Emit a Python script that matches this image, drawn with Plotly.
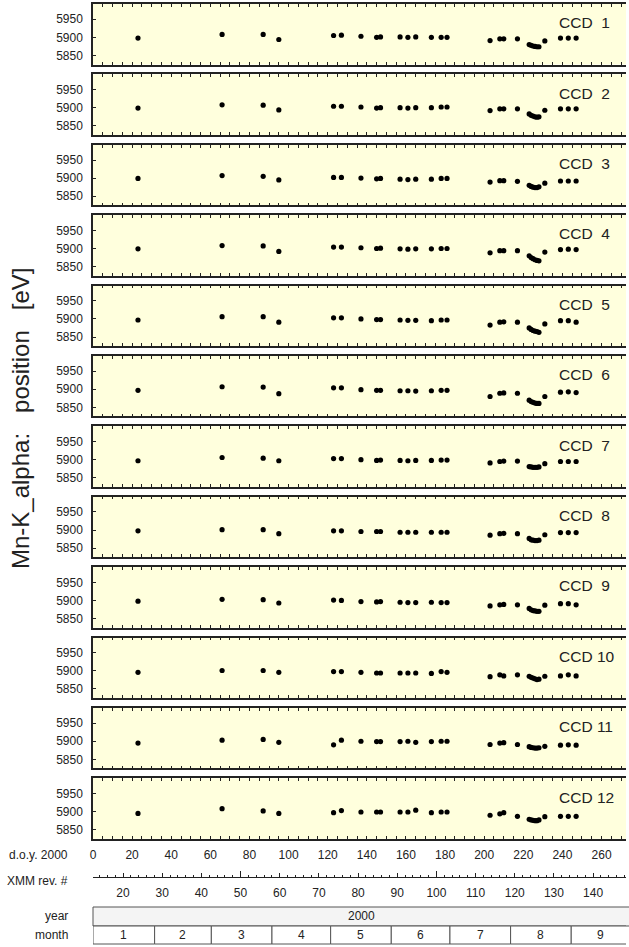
import plotly.graph_objects as go

# ---------------- data ----------------
doy = [23, 66, 87, 95, 123, 127, 137, 145, 147, 157, 161, 165, 173, 178, 181,
       203, 208, 210, 217, 223, 224, 225, 226, 227, 228, 231, 239, 243, 247]

ccd_01 = [5898, 5908, 5908, 5894, 5905, 5906, 5903, 5900, 5901, 5901, 5900, 5901, 5900, 5900, 5900,
          5891, 5896, 5896, 5896, 5880, 5878, 5876, 5875, 5874, 5874, 5890, 5898, 5898, 5898]
ccd_02 = [5899, 5908, 5907, 5894, 5904, 5904, 5902, 5899, 5900, 5900, 5899, 5900, 5900, 5902, 5902,
          5892, 5897, 5897, 5897, 5883, 5879, 5877, 5875, 5874, 5875, 5893, 5897, 5897, 5897]
ccd_03 = [5899, 5907, 5905, 5895, 5902, 5902, 5900, 5898, 5899, 5897, 5896, 5897, 5897, 5899, 5899,
          5889, 5893, 5893, 5891, 5880, 5877, 5875, 5874, 5874, 5876, 5886, 5892, 5892, 5892]
ccd_04 = [5899, 5908, 5907, 5892, 5904, 5904, 5902, 5900, 5901, 5899, 5898, 5899, 5899, 5900, 5900,
          5888, 5894, 5894, 5894, 5880, 5875, 5872, 5869, 5867, 5866, 5890, 5897, 5898, 5897]
ccd_05 = [5897, 5906, 5906, 5891, 5903, 5903, 5900, 5898, 5898, 5897, 5896, 5896, 5895, 5897, 5897,
          5883, 5891, 5892, 5891, 5875, 5871, 5868, 5866, 5865, 5863, 5886, 5895, 5895, 5891]
ccd_06 = [5897, 5907, 5906, 5888, 5904, 5904, 5899, 5897, 5897, 5896, 5896, 5895, 5896, 5897, 5897,
          5880, 5889, 5890, 5889, 5870, 5866, 5864, 5862, 5861, 5861, 5880, 5892, 5893, 5891]
ccd_07 = [5897, 5906, 5904, 5897, 5903, 5903, 5900, 5898, 5899, 5898, 5897, 5898, 5898, 5899, 5899,
          5891, 5895, 5896, 5896, 5881, 5880, 5879, 5879, 5879, 5880, 5889, 5895, 5895, 5895]
ccd_08 = [5898, 5901, 5901, 5890, 5898, 5898, 5896, 5896, 5896, 5894, 5894, 5894, 5894, 5894, 5894,
          5886, 5890, 5891, 5890, 5877, 5873, 5872, 5871, 5871, 5872, 5887, 5893, 5893, 5893]
ccd_09 = [5898, 5903, 5902, 5893, 5901, 5900, 5897, 5896, 5897, 5895, 5894, 5894, 5895, 5894, 5894,
          5885, 5888, 5889, 5888, 5878, 5874, 5872, 5871, 5870, 5870, 5887, 5891, 5891, 5888]
ccd_10 = [5896, 5901, 5901, 5896, 5898, 5898, 5896, 5894, 5894, 5894, 5894, 5894, 5893, 5898, 5896,
          5884, 5889, 5886, 5889, 5885, 5882, 5880, 5878, 5876, 5877, 5885, 5886, 5889, 5886]
ccd_11 = [5895, 5903, 5905, 5897, 5890, 5903, 5900, 5899, 5899, 5899, 5900, 5897, 5899, 5900, 5900,
          5891, 5895, 5896, 5891, 5885, 5883, 5882, 5881, 5881, 5882, 5886, 5889, 5890, 5889]
ccd_12 = [5895, 5908, 5902, 5895, 5897, 5903, 5899, 5899, 5899, 5899, 5899, 5904, 5897, 5899, 5899,
          5890, 5894, 5897, 5887, 5879, 5877, 5876, 5875, 5875, 5877, 5886, 5887, 5887, 5887]

ccd_series = [ccd_01, ccd_02, ccd_03, ccd_04, ccd_05, ccd_06,
              ccd_07, ccd_08, ccd_09, ccd_10, ccd_11, ccd_12]
ccd_names = ["CCD\u00a0\u00a01", "CCD\u00a0\u00a02", "CCD\u00a0\u00a03", "CCD\u00a0\u00a04",
             "CCD\u00a0\u00a05", "CCD\u00a0\u00a06", "CCD\u00a0\u00a07", "CCD\u00a0\u00a08",
             "CCD\u00a0\u00a09", "CCD 10", "CCD 11", "CCD 12"]

y_ticks = [5850, 5900, 5950]
doy_label_ticks = [0, 20, 40, 60, 80, 100, 120, 140, 160, 180, 200, 220, 240, 260]
rev_label_ticks = [20, 30, 40, 50, 60, 70, 80, 90, 100, 110, 120, 130, 140]
rev_long_ticks = [50, 100]
month_labels = ["1", "2", "3", "4", "5", "6", "7", "8", "9"]
days_in_month = [31, 29, 31, 30, 31, 30, 31, 31, 30]
year_label = "2000"

# ---------------- layout geometry ----------------
W, H = 629, 947
ML, MR = 93, 3
PW = W - ML - MR
X_RANGE = [0, 272.5]
Y_RANGE = [5825, 5992]
REV_RANGE = [12.34, 148.4]
PANEL_TOP0 = 4.0
PANEL_STEP = 70.39
PANEL_H = 60.5
INK = "#222222"
FONT = "Liberation Sans, Arial, sans-serif"


def py(p):
    return 1 - p / H


def px(p):
    return (p - ML) / PW


fig = go.Figure()
layout = dict(
    width=W, height=H,
    margin=dict(l=ML, r=MR, t=0, b=0, pad=0),
    paper_bgcolor="white",
    plot_bgcolor="#FFFFDD",
    showlegend=False,
    font=dict(family=FONT, size=12, color=INK),
)

annotations = []
shapes = []
n = len(ccd_series)
for i, vals in enumerate(ccd_series):
    k = i + 1
    xs = "" if k == 1 else str(k)
    top = PANEL_TOP0 + i * PANEL_STEP
    bot = top + PANEL_H
    fig.add_trace(go.Scatter(
        x=doy, y=vals, mode="markers",
        marker=dict(color="black", size=5.2),
        xaxis="x" + xs, yaxis="y" + xs, hoverinfo="x+y",
    ))
    last = (k == n)
    layout["xaxis" + xs] = dict(
        domain=[0, 1], anchor="y" + xs, range=X_RANGE,
        tickmode="array",
        tickvals=list(range(0, 271, 5)),
        ticktext=[(str(v) if v in doy_label_ticks else "") for v in range(0, 271, 5)],
        showticklabels=last,
        ticks="inside", ticklen=3, tickwidth=1, tickcolor=INK,
        showline=True, linecolor=INK, linewidth=1.5, mirror="ticks",
        showgrid=False, zeroline=False,
        tickfont=dict(size=12, color=INK),
        ticklabelstandoff=4,
    )
    layout["yaxis" + xs] = dict(
        domain=[py(bot), py(top)], anchor="x" + xs, range=Y_RANGE,
        tickmode="array", tickvals=y_ticks,
        ticks="inside", ticklen=3, tickwidth=1, tickcolor=INK,
        showline=True, linecolor=INK, linewidth=1.5,
        showgrid=False, zeroline=False,
        tickfont=dict(size=12, color=INK),
        ticklabelstandoff=6,
    )
    # right-hand outside ticks
    layout["yaxis" + str(n + k)] = dict(
        overlaying="y" + xs, anchor="x" + xs, side="right", range=Y_RANGE,
        tickmode="array", tickvals=y_ticks,
        ticks="outside", ticklen=3, tickwidth=1, tickcolor=INK,
        showticklabels=False, showline=False, showgrid=False, zeroline=False,
    )
    annotations.append(dict(
        text=ccd_names[i], xref="x" + xs + " domain", yref="y" + xs + " domain",
        x=0.870, y=0.69, xanchor="left", yanchor="middle", showarrow=False,
        font=dict(size=15.5, color=INK),
    ))

last_x = "x" + str(n)
last_y = "y" + str(n)

# XMM revolution axis (overlay on the last panel, placed freely below it)
rev_ax = "x" + str(n + 1)
rev_ax2 = "x" + str(n + 2)
layout["xaxis" + str(n + 1)] = dict(
    overlaying=last_x, anchor="free", position=py(877), side="bottom",
    range=REV_RANGE, tickmode="array", tickvals=rev_label_ticks,
    ticks="inside", ticklen=4, tickwidth=1, tickcolor=INK,
    minor=dict(tickmode="array", tickvals=list(range(14, 149, 2)),
               ticks="inside", ticklen=2.5, tickwidth=1, tickcolor=INK),
    showline=True, linecolor=INK, linewidth=1,
    showgrid=False, zeroline=False,
    tickfont=dict(size=12, color=INK), ticklabelstandoff=5,
)
layout["xaxis" + str(n + 2)] = dict(
    overlaying=last_x, anchor="free", position=py(877), side="bottom",
    range=REV_RANGE, tickmode="array", tickvals=rev_long_ticks,
    ticks="inside", ticklen=6, tickwidth=1, tickcolor=INK,
    showticklabels=False, showline=False, showgrid=False, zeroline=False,
)
# invisible carriers so the overlay axes get drawn
for ax in (rev_ax, rev_ax2):
    fig.add_trace(go.Scatter(
        x=rev_label_ticks, y=[None] * len(rev_label_ticks), mode="markers",
        marker=dict(opacity=0), xaxis=ax, yaxis=last_y, hoverinfo="skip",
    ))

# left-hand row labels
for txt, yy in [("d.o.y. 2000", 855), ("XMM rev. #", 881), ("year", 916), ("month", 935)]:
    annotations.append(dict(
        text=txt, xref="paper", yref="paper", x=px(70), y=py(yy),
        xanchor="right", yanchor="middle", showarrow=False,
        font=dict(size=12, color=INK),
    ))

# y-axis title
annotations.append(dict(
    text="Mn-K_alpha:\u00a0\u00a0\u00a0position\u00a0\u00a0\u00a0[eV]", xref="paper", yref="paper",
    x=px(20), y=py(418), textangle=-90, xanchor="center", yanchor="middle",
    showarrow=False, font=dict(size=24, color=INK),
))

# year box
shapes.append(dict(type="rect", xref="paper", yref="paper",
                   x0=0, x1=px(W + 2), y0=py(926), y1=py(907),
                   fillcolor="#F4F4F4", line=dict(color="#555555", width=1), layer="above"))
annotations.append(dict(text=year_label, xref="paper", yref="paper",
                        x=px((ML + W) / 2), y=py(916), xanchor="center", yanchor="middle",
                        showarrow=False, font=dict(size=12, color=INK)))

# month boxes
edges = [0.0]
acc = 0
for d in days_in_month:
    acc += d
    edges.append(acc + 0.5)
for j, lab in enumerate(month_labels):
    shapes.append(dict(type="rect", xref=last_x, yref="paper",
                       x0=edges[j], x1=edges[j + 1], y0=py(944), y1=py(926),
                       fillcolor="white", line=dict(color="#555555", width=1), layer="above"))
    annotations.append(dict(text=lab, xref=last_x, yref="paper",
                            x=(edges[j] + edges[j + 1]) / 2, y=py(935),
                            xanchor="center", yanchor="middle", showarrow=False,
                            font=dict(size=12, color=INK)))

layout["annotations"] = annotations
layout["shapes"] = shapes
fig.update_layout(**layout)
fig.write_html("out.html",
               config={"displayModeBar": False},
               post_script="document.body.style.margin='0';document.body.style.overflow='hidden';")
